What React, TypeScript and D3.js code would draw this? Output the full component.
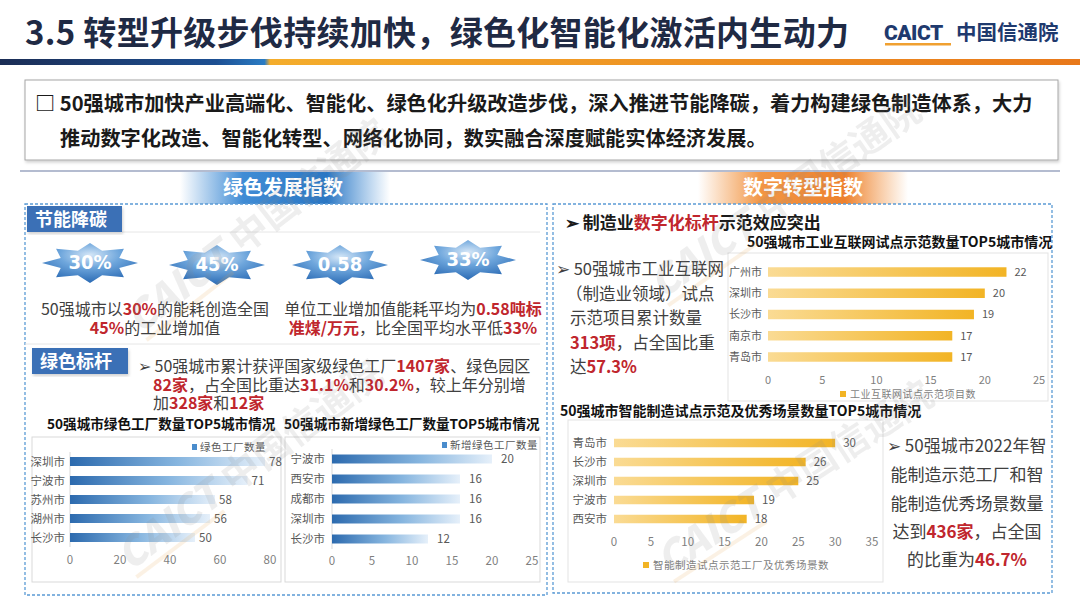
import React from 'react';
import * as d3 from 'd3';

// green factories (left panel)
const greenCities = ['深圳市', '宁波市', '苏州市', '湖州市', '长沙市'];
const greenFactories = [78, 71, 58, 56, 50];
const newCities = ['宁波市', '西安市', '成都市', '深圳市', '长沙市'];
const newFactories = [20, 16, 16, 16, 12];
// digital transformation (right panel)
const iiotCities = ['广州市', '深圳市', '长沙市', '南京市', '青岛市'];
const iiotProjects = [22, 20, 19, 17, 17];
const smartCities = ['青岛市', '长沙市', '深圳市', '宁波市', '西安市'];
const smartScenes = [30, 26, 25, 19, 18];
const starLabels = ['30%', '45%', '0.58', '33%'];

const CJK = '"Noto Sans CJK SC", "Noto Sans", sans-serif';
const RED = '#c0262d';
const GREY_TXT = '#404040';

type Seg = [string, boolean?];

const Rich = ({ x, y, segs, size, anchor = 'start', weight = 400, color = GREY_TXT }: any) => (
  <text x={x} y={y} fontSize={size} textAnchor={anchor} fontFamily={CJK} fill={color} fontWeight={weight}>
    {segs.map((s: Seg, i: number) => (
      <tspan key={i} fill={s[1] ? RED : undefined} fontWeight={s[1] ? 700 : undefined}>{s[0]}</tspan>
    ))}
  </text>
);

const HBars = ({ cats, values, max, step, x0, x1, yTop, yBottom, barH, fill, labelX, tickY, fontSize, axisLine, gap }: any) => {
  const x = d3.scaleLinear().domain([0, max]).range([x0, x1]);
  const y = d3.scaleBand<string>().domain(cats).range([yTop, yBottom]);
  const ticks = d3.range(0, max + step / 2, step);
  return (
    <g fontFamily={CJK} fontSize={fontSize}>
      {axisLine && <line x1={x(0)} x2={x(0)} y1={yTop} y2={yBottom} stroke="#d9d9d9" />}
      {cats.map((c: string, i: number) => {
        const cy = (y(c) as number) + y.bandwidth() / 2;
        return (
          <g key={c + i}>
            <text x={labelX} y={cy} dy="0.36em" textAnchor="end" fill="#595959">{c}</text>
            <rect x={x(0)} y={cy - barH / 2} width={x(values[i]) - x(0)} height={barH} fill={fill} />
            <text x={x(values[i]) + gap} y={cy} dy="0.36em" fill="#595959">{values[i]}</text>
          </g>
        );
      })}
      {ticks.map((t) => (
        <text key={t} x={x(t)} y={tickY} textAnchor="middle" fill="#7f7f7f">{t}</text>
      ))}
    </g>
  );
};

const starPoints = (cx: number, cy: number, rx: number, ry: number) => {
  const pts: string[] = [];
  for (let k = 0; k < 16; k++) {
    const a = (Math.PI / 8) * k;
    const r = k % 2 === 0 ? 1 : 0.66;
    pts.push(`${cx + Math.cos(a) * rx * r},${cy - Math.sin(a) * ry * r}`);
  }
  return pts.join(' ');
};

const Watermark = ({ x, y, angle }: any) => (
  <g transform={`translate(${x},${y}) rotate(${angle})`} opacity={0.14}>
    <text x={0} y={0} fontFamily={CJK} fontWeight={900} fontSize={40} fill="#8c8c8c" fontStyle="italic">CAICT</text>
    <rect x={2} y={6} width={110} height={4} fill="#e8a44a" />
    <text x={130} y={0} fontFamily={CJK} fontWeight={700} fontSize={38} fill="#8c8c8c">中国信通院</text>
  </g>
);

export default function App() {
  const stars = [
    [90, 263],
    [217, 265],
    [340, 265],
    [468, 260],
  ];
  return (
    <svg width={1080} height={608} style={{ position: 'absolute', left: 0, top: 0, background: '#fff' }}>
      <defs>
        <linearGradient id="hdr" x1="0" x2="1" y1="0" y2="0">
          <stop offset="0" stopColor="#1b2d55" />
          <stop offset="0.2" stopColor="#1d4f92" />
          <stop offset="0.245" stopColor="#2a7cc4" />
          <stop offset="0.25" stopColor="#f4ad2c" />
          <stop offset="1" stopColor="#e8781a" />
        </linearGradient>
        <linearGradient id="bnBlue" x1="0" x2="1">
          <stop offset="0" stopColor="#2b7fd0" stopOpacity="0" />
          <stop offset="0.3" stopColor="#2b7fd0" stopOpacity="0.9" />
          <stop offset="0.7" stopColor="#1f6fc0" stopOpacity="0.95" />
          <stop offset="1" stopColor="#2b7fd0" stopOpacity="0" />
        </linearGradient>
        <linearGradient id="bnOrange" x1="0" x2="1">
          <stop offset="0" stopColor="#f08a30" stopOpacity="0" />
          <stop offset="0.3" stopColor="#f08a30" stopOpacity="0.9" />
          <stop offset="0.7" stopColor="#ec7a22" stopOpacity="0.95" />
          <stop offset="1" stopColor="#f08a30" stopOpacity="0" />
        </linearGradient>
        <radialGradient id="star" cx="0.5" cy="0.3" r="0.7">
          <stop offset="0" stopColor="#d4e6f7" />
          <stop offset="0.45" stopColor="#6ea6dc" />
          <stop offset="1" stopColor="#2a6ab4" />
        </radialGradient>
        <linearGradient id="barBlue" x1="0" x2="1">
          <stop offset="0" stopColor="#2c6aae" />
          <stop offset="0.55" stopColor="#86b5df" />
          <stop offset="1" stopColor="#e6f0fa" />
        </linearGradient>
        <linearGradient id="barOrange" x1="0" x2="1">
          <stop offset="0" stopColor="#fadb94" />
          <stop offset="1" stopColor="#f2b425" />
        </linearGradient>
        <filter id="shadow" x="-5%" y="-5%" width="110%" height="115%">
          <feDropShadow dx="1" dy="2" stdDeviation="1.5" floodColor="#000" floodOpacity="0.18" />
        </filter>
      </defs>

      {/* title */}
      <text x={25} y={45} fontFamily={CJK} fontWeight={700} fontSize={33} fill="#1f2a44" letterSpacing={0.3}>
        3.5 转型升级步伐持续加快，绿色化智能化激活内生动力
      </text>
      <text x={884} y={40} fontFamily="Roboto, sans-serif" fontWeight={900} fontSize={21} fill="#1f3a6e" letterSpacing={-0.5}>CAICT</text>
      <rect x={885} y={43} width={66} height={2.5} fill="#f0a030" />
      <text x={956} y={40} fontFamily={CJK} fontWeight={700} fontSize={20.5} fill="#1f3a6e">中国信通院</text>
      <rect x={0} y={59} width={1080} height={6} fill="url(#hdr)" />

      {/* intro box */}
      <rect x={25} y={80} width={1033} height={80} fill="#fff" stroke="#a6a6a6" strokeWidth={1} filter="url(#shadow)" />
      <text fontFamily={CJK} fontWeight={700} fontSize={20.2} fill="#1a1a1a">
        <tspan x={35} y={111}>□ 50强城市加快产业高端化、智能化、绿色化升级改造步伐，深入推进节能降碳，着力构建绿色制造体系，大力</tspan>
        <tspan x={60} y={146}>推动数字化改造、智能化转型、网络化协同，数实融合深度赋能实体经济发展。</tspan>
      </text>

      {/* section banners */}
      <line x1={20} x2={1060} y1={171} y2={171} stroke="#9ba6c0" strokeWidth={1.5} />
      <rect x={180} y={172} width={210} height={32} fill="url(#bnBlue)" />
      <text x={283} y={195} textAnchor="middle" fontFamily={CJK} fontWeight={700} fontSize={20} fill="#fff">绿色发展指数</text>
      <rect x={698} y={172} width={210} height={32} fill="url(#bnOrange)" />
      <text x={803} y={195} textAnchor="middle" fontFamily={CJK} fontWeight={700} fontSize={20} fill="#fff">数字转型指数</text>

      {/* panels */}
      <rect x={25} y={204} width={522} height={391} fill="none" stroke="#5b9bd5" strokeWidth={1.3} strokeDasharray="3 2" />
      <rect x={553} y={204} width={499} height={389} fill="none" stroke="#5b9bd5" strokeWidth={1.3} strokeDasharray="3 2" />

      {/* 节能降碳 */}
      <line x1={122} x2={540} y1={232} y2={232} stroke="#e6e6e6" />
      <rect x={27} y={206} width={95} height={26} fill="#3b6fb6" filter="url(#shadow)" />
      <text x={35} y={226} fontFamily={CJK} fontWeight={700} fontSize={18} fill="#fff">节能降碳</text>
      {stars.map(([cx, cy], i) => (
        <g key={i}>
          <polygon points={starPoints(cx, cy, 48, 20)} fill="url(#star)" />
          <text x={cx} y={cy + 6} textAnchor="middle" fontFamily='"Liberation Sans Narrow", "DejaVu Sans Condensed", sans-serif' fontWeight={700} fontSize={20} fill="#fff">{starLabels[i]}</text>
        </g>
      ))}
      <Rich x={155} y={315} size={16} anchor="middle" segs={[['50强城市以'], ['30%', true], ['的能耗创造全国']]} />
      <Rich x={155} y={334} size={16} anchor="middle" segs={[['45%', true], ['的工业增加值']]} />
      <Rich x={413} y={315} size={16} anchor="middle" segs={[['单位工业增加值能耗平均为'], ['0.58吨标', true]]} />
      <Rich x={413} y={334} size={16} anchor="middle" segs={[['准煤/万元', true], ['，比全国平均水平低'], ['33%', true]]} />

      {/* 绿色标杆 */}
      <line x1={25} x2={540} y1={344} y2={344} stroke="#e6e6e6" />
      <rect x={32} y={348} width={96} height={26} fill="#3b6fb6" filter="url(#shadow)" />
      <text x={40} y={368} fontFamily={CJK} fontWeight={700} fontSize={18} fill="#fff">绿色标杆</text>
      <Rich x={138} y={372} size={16} segs={[['➢ 50强城市累计获评国家级绿色工厂'], ['1407家', true], ['、绿色园区']]} />
      <Rich x={153} y={391} size={16} segs={[['82家', true], ['，占全国比重达'], ['31.1%', true], ['和'], ['30.2%', true], ['，较上年分别增']]} />
      <Rich x={153} y={409} size={16} segs={[['加'], ['328家', true], ['和'], ['12家', true]]} />

      <text x={47} y={429} fontFamily={CJK} fontWeight={700} fontSize={13.6} fill="#111">50强城市绿色工厂数量TOP5城市情况</text>
      <text x={284} y={429} fontFamily={CJK} fontWeight={700} fontSize={13.6} fill="#111">50强城市新增绿色工厂数量TOP5城市情况</text>

      <rect x={32} y={437} width={249} height={145} fill="#fff" stroke="#d9d9d9" />
      <rect x={192} y={444} width={5} height={6} fill="#4a8ccc" />
      <text x={200} y={451} fontFamily={CJK} fontSize={10.5} fill="#595959" letterSpacing={0.5}>绿色工厂数量</text>
      <HBars cats={greenCities} values={greenFactories} max={80} step={20} x0={70} x1={270} yTop={452} yBottom={547}
        barH={9} fill="url(#barBlue)" labelX={65} tickY={564} fontSize={11.5} axisLine gap={4} />

      <rect x={285} y={437} width={255} height={145} fill="#fff" stroke="#d9d9d9" />
      <rect x={442} y={442} width={5} height={6} fill="#4a8ccc" />
      <text x={450} y={449} fontFamily={CJK} fontSize={10.5} fill="#595959" letterSpacing={0.5}>新增绿色工厂数量</text>
      <HBars cats={newCities} values={newFactories} max={25} step={5} x0={332} x1={532} yTop={449} yBottom={549}
        barH={9} fill="url(#barBlue)" labelX={325} tickY={565} fontSize={11.5} axisLine gap={9} />

      {/* right panel */}
      <text x={565} y={229} fontFamily={CJK} fontWeight={700} fontSize={17} fill="#1a1a1a">
        ➢  制造业<tspan fill={RED}>数字化标杆</tspan>示范效应突出
      </text>
      <text x={747} y={247} fontFamily={CJK} fontWeight={700} fontSize={14} fill="#111">50强城市工业互联网试点示范数量TOP5城市情况</text>
      <Rich x={556} y={275} size={16.5} segs={[['➢ 50强城市工业互联网']]} />
      <Rich x={566} y={299.5} size={16.5} segs={[['（制造业领域）试点']]} />
      <Rich x={570} y={324} size={16.5} segs={[['示范项目累计数量']]} />
      <Rich x={570} y={348.5} size={16.5} segs={[['313项', true], ['，占全国比重']]} />
      <Rich x={570} y={373} size={16.5} segs={[['达'], ['57.3%', true]]} />

      <rect x={728} y={253} width={320} height={148} fill="#fff" stroke="#e3e3e3" />
      <HBars cats={iiotCities} values={iiotProjects} max={25} step={5} x0={768} x1={1039} yTop={261.4} yBottom={367.6}
        barH={9.5} fill="url(#barOrange)" labelX={762} tickY={384} fontSize={11} gap={8} />
      <rect x={840} y={391} width={6} height={6} fill="#f2b425" />
      <text x={850} y={398} fontFamily={CJK} fontSize={10} fill="#7f7f7f" letterSpacing={0.5}>工业互联网试点示范项目数</text>

      <text x={560} y={416} fontFamily={CJK} fontWeight={700} fontSize={14} fill="#111">50强城市智能制造试点示范及优秀场景数量TOP5城市情况</text>
      <rect x={568} y={420} width={315} height={162} fill="#fff" stroke="#e3e3e3" />
      <HBars cats={smartCities} values={smartScenes} max={35} step={5} x0={614} x1={872} yTop={433.5} yBottom={528.5}
        barH={8.5} fill="url(#barOrange)" labelX={607} tickY={546} fontSize={11.5} gap={8} />
      <rect x={643} y={562} width={6} height={6} fill="#f2b425" />
      <text x={653} y={569} fontFamily={CJK} fontSize={10.5} fill="#7f7f7f" letterSpacing={0.5}>智能制造试点示范工厂及优秀场景数</text>

      <Rich x={887} y={452} size={17} segs={[['➢ 50强城市2022年智']]} />
      <Rich x={967} y={481} size={17} anchor="middle" segs={[['能制造示范工厂和智']]} />
      <Rich x={967} y={510} size={17} anchor="middle" segs={[['能制造优秀场景数量']]} />
      <Rich x={967} y={538} size={17} anchor="middle" segs={[['达到'], ['436家', true], ['，占全国']]} />
      <Rich x={967} y={566} size={17} anchor="middle" segs={[['的比重为'], ['46.7%', true]]} />

      {/* watermarks */}
      <Watermark x={140} y={335} angle={-38} />
      <Watermark x={130} y={572} angle={-37} />
      <Watermark x={662} y={300} angle={-35} />
      <Watermark x={668} y={576} angle={-33} />
    </svg>
  );
}
